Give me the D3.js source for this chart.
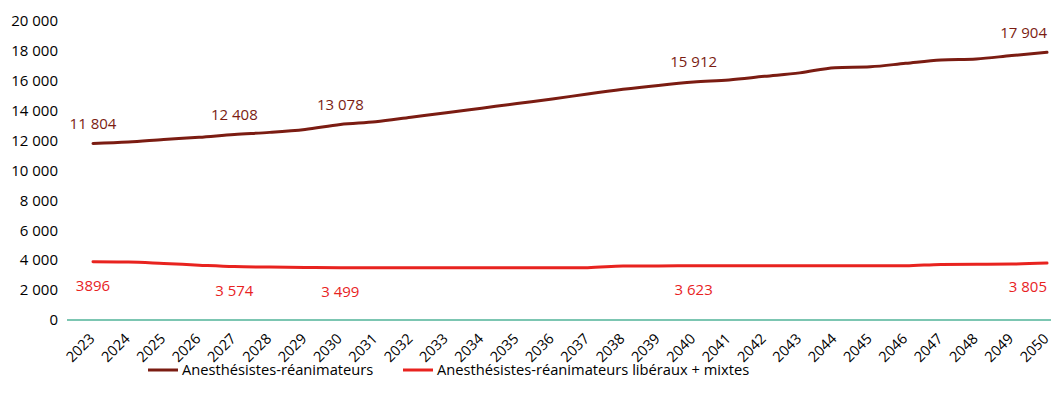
<!DOCTYPE html>
<html>
<head>
<meta charset="utf-8">
<script src="https://d3js.org/d3.v7.min.js"></script>
<style>
  body { margin: 0; background: #fff; }
  svg text { font-family: "Open Sans", "DejaVu Sans", sans-serif; }
</style>
</head>
<body>
<div id="chart"></div>
<script>
// années de projection
const years = d3.range(2023, 2051);

// Anesthésistes-réanimateurs (total)
const totalValues = [11804, 11900, 12070, 12220, 12408, 12550, 12750, 13078, 13260, 13560,
    13860, 14170, 14480, 14780, 15120, 15430, 15690, 15912, 16060, 16300,
    16530, 16880, 16940, 17170, 17390, 17460, 17690, 17904];

// libéraux + mixtes
const liberalValues = [3896, 3880, 3780, 3670, 3574, 3540, 3520, 3499, 3500, 3500,
    3500, 3500, 3500, 3500, 3500, 3610, 3620, 3623, 3625, 3625,
    3625, 3625, 3625, 3625, 3720, 3730, 3745, 3805];

// années où la valeur est affichée
const labelYears = [2023, 2027, 2030, 2040, 2050];

const yTicks = d3.range(0, 20001, 2000);

const seriesNames = ['Anesthésistes-réanimateurs', 'Anesthésistes-réanimateurs libéraux + mixtes'];
const seriesColors = ['#7b1c12', '#e8231f'];

const width = 1051, height = 401;
const fmt = v => d3.format(',')(v).replace(/,/g, ' ');

const svg = d3.select('#chart').append('svg')
    .attr('width', width)
    .attr('height', height);

const x = d3.scalePoint().domain(years).range([93, 1047]);
const y = d3.scaleLinear().domain([0, 20000]).range([320, 21]);

// axe Y (texte seulement)
svg.append('g')
    .selectAll('text')
    .data(yTicks)
    .join('text')
    .attr('x', 58)
    .attr('y', d => y(d))
    .attr('dy', '0.35em')
    .attr('text-anchor', 'end')
    .attr('font-size', '15px')
    .attr('fill', '#000')
    .text(d => fmt(d));

// ligne de base
svg.append('line')
    .attr('x1', 67).attr('x2', 1051)
    .attr('y1', y(0)).attr('y2', y(0))
    .attr('stroke', '#7cc6b2')
    .attr('stroke-width', 2);

// étiquettes X
svg.append('g')
    .selectAll('text')
    .data(years)
    .join('text')
    .attr('transform', d => `translate(${x(d) - 1},${y(0) + 16}) rotate(-45)`)
    .attr('text-anchor', 'end')
    .attr('dy', '0.35em')
    .attr('font-size', '14.5px')
    .attr('fill', '#000')
    .text(d => d);

const line = d3.line()
    .x((d, i) => x(years[i]))
    .y(d => y(d))
    .curve(d3.curveMonotoneX);

[totalValues, liberalValues].forEach((vals, k) => {
    svg.append('path')
        .datum(vals)
        .attr('d', line)
        .attr('fill', 'none')
        .attr('stroke', seriesColors[k])
        .attr('stroke-width', 3)
        .attr('stroke-linecap', 'round');
});

// étiquettes de données
svg.append('g')
    .selectAll('text')
    .data(labelYears)
    .join('text')
    .attr('x', d => x(d))
    .attr('y', d => y(totalValues[years.indexOf(d)]) - 20)
    .attr('dy', '0.35em')
    .attr('text-anchor', d => d === 2050 ? 'end' : 'middle')
    .attr('font-size', '15px')
    .attr('fill', seriesColors[0])
    .text(d => fmt(totalValues[years.indexOf(d)]));

svg.append('g')
    .selectAll('text')
    .data(labelYears)
    .join('text')
    .attr('x', d => x(d))
    .attr('y', d => y(liberalValues[years.indexOf(d)]) + 24)
    .attr('dy', '0.35em')
    .attr('text-anchor', d => d === 2050 ? 'end' : 'middle')
    .attr('font-size', '15px')
    .attr('fill', seriesColors[1])
    .text(d => d === 2023 ? String(liberalValues[0]) : fmt(liberalValues[years.indexOf(d)]));

// légende
const legendX = [148, 403];
const legend = svg.append('g')
    .selectAll('g')
    .data(seriesNames)
    .join('g')
    .attr('transform', (d, i) => `translate(${legendX[i]},370)`);

legend.append('line')
    .attr('x1', 0).attr('x2', 30)
    .attr('stroke', (d, i) => seriesColors[i])
    .attr('stroke-width', 3);

legend.append('text')
    .attr('x', 34)
    .attr('dy', '0.35em')
    .attr('font-size', '14.7px')
    .attr('fill', '#000')
    .text(d => d);
</script>
</body>
</html>
